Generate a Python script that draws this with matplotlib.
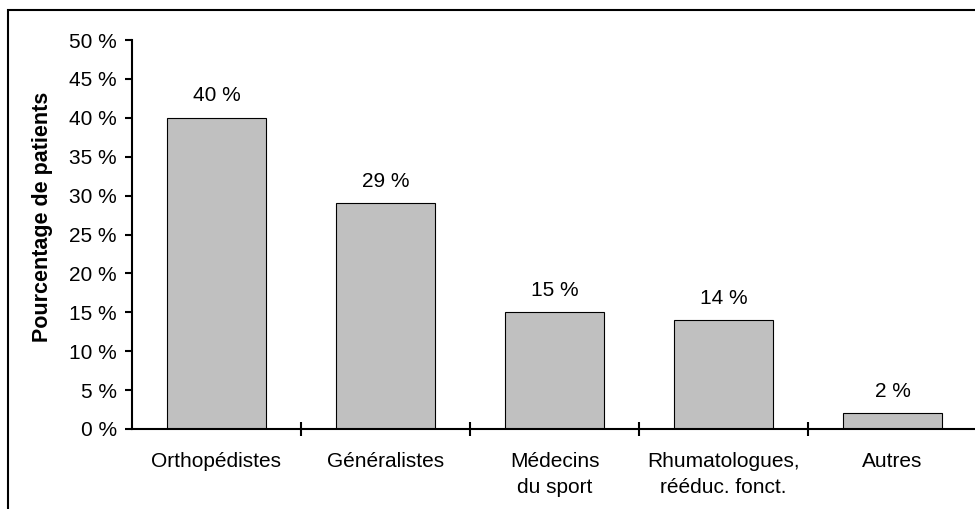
import matplotlib.pyplot as plt
from matplotlib.patches import Rectangle

categories = ['Orthopédistes', 'Généralistes', 'Médecins\ndu sport',
              'Rhumatologues,\nrééduc. fonct.', 'Autres']
values = [40, 29, 15, 14, 2]

plt.rcParams['font.family'] = ['Liberation Sans', 'DejaVu Sans']

W, H = 975, 509
fig = plt.figure(figsize=(W / 100, H / 100), dpi=100)

# outer frame, open on the right and bottom
fig.patches.append(Rectangle((8 / W, -0.1), 1.2, 1 - 10 / H + 0.1,
                             transform=fig.transFigure, fill=False,
                             edgecolor='black', linewidth=1.5))

ax = fig.add_axes([132 / W, 1 - 429 / H, 845 / W, 389 / H])

x = range(len(categories))
ax.bar(x, values, width=0.59, color='#c0c0c0', edgecolor='black', linewidth=0.8)

for i, v in enumerate(values):
    ax.text(i, v + 1.6, f'{v} %', ha='center', va='bottom', fontsize=15)

ax.set_xlim(-0.5, len(categories) - 0.5)
ax.set_ylim(0, 50)
ax.set_yticks(range(0, 51, 5))
ax.set_yticklabels([f'{t} %' for t in range(0, 51, 5)], fontsize=15)
ax.tick_params(axis='y', direction='out', length=5, width=1.5, pad=6)

ax.set_xticks([i + 0.5 for i in range(len(categories) - 1)])
ax.set_xticklabels([])
ax.tick_params(axis='x', direction='inout', length=10, width=1.5)
for i, c in enumerate(categories):
    ax.text(i, -3.0, c, ha='center', va='top', fontsize=15, linespacing=1.42)

for side in ['top', 'right']:
    ax.spines[side].set_visible(False)
ax.spines['left'].set_linewidth(1.5)
ax.spines['bottom'].set_linewidth(1.5)

ax.set_ylabel('Pourcentage de patients', fontsize=15.5, fontweight='bold')
ax.yaxis.set_label_coords(-0.093, 0.545)

fig.savefig('out.png', dpi=100)
